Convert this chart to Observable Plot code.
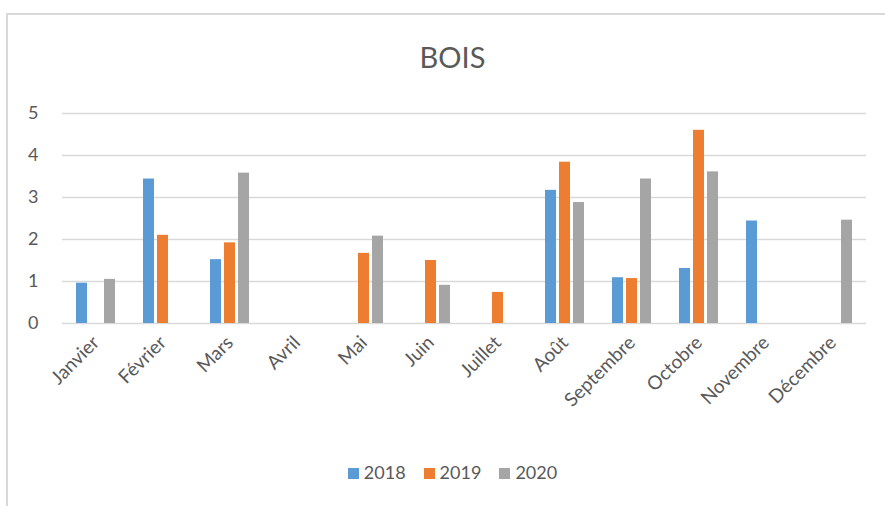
<!DOCTYPE html>
<html>
<head>
<meta charset="utf-8">
<script src="https://cdn.jsdelivr.net/npm/d3@7"></script>
<script src="https://cdn.jsdelivr.net/npm/@observablehq/plot@0.6"></script>
<style>
  html, body { margin: 0; padding: 0; background: #fff; }
  body { width: 885px; height: 506px; position: relative; overflow: hidden; font-family: Lato, "Open Sans", sans-serif; }
  #frame { position: absolute; left: 6px; top: 13px; width: 900px; height: 520px; border-left: 2px solid #d9d9d9; border-top: 2px solid #d9d9d9; }
  #title { position: absolute; left: 0; width: 905px; top: 40px; text-align: center; font-size: 29px; color: #595959; line-height: 34px; }
  #chart { position: absolute; left: 0; top: 0; }
  #legend { position: absolute; left: 0; width: 905px; top: 460px; text-align: center; font-size: 18px; color: #595959; line-height: 24px; }
  #legend span.item { display: inline-block; margin: 0 9px; }
  #legend span.sw { display: inline-block; width: 11px; height: 11px; margin-right: 5px; vertical-align: 0px; }
  .chart g[aria-label^="y-axis"] text { font-size: 18px; }
  .chart g[aria-label^="fx-axis"] text { font-size: 19px; }
</style>
</head>
<body>
<div id="frame"></div>
<div id="title">BOIS</div>
<div id="chart"></div>
<div id="legend"></div>
<script>
const months = ["Janvier", "Février", "Mars", "Avril", "Mai", "Juin", "Juillet", "Août", "Septembre", "Octobre", "Novembre", "Décembre"];
const years = ["2018", "2019", "2020"];
const v2018 = [0.96, 3.44, 1.52, 0, 0, 0, 0, 3.17, 1.09, 1.31, 2.44, 0];
const v2019 = [0, 2.10, 1.92, 0, 1.67, 1.50, 0.74, 3.84, 1.07, 4.60, 0, 0];
const v2020 = [1.05, 0, 3.58, 0, 2.08, 0.91, 0, 2.88, 3.44, 3.61, 0, 2.46];
const colors = ["#5b9bd5", "#ed7d31", "#a5a5a5"];
const yTicks = [0, 1, 2, 3, 4, 5];

const series = [v2018, v2019, v2020];
const rows = [];
years.forEach((yr, j) => {
  months.forEach((m, i) => {
    rows.push({month: m, year: yr, value: series[j][i]});
  });
});

const chart = Plot.plot({
  className: "chart",
  width: 885,
  height: 445,
  marginTop: 113,
  marginBottom: 122,
  marginLeft: 59,
  marginRight: 16,
  style: {fontFamily: "Lato, 'Open Sans', sans-serif", color: "#595959", background: "transparent"},
  fx: {domain: months, padding: 0, label: null, axis: "bottom", tickRotate: -45, tickSize: 0, tickPadding: 16},
  x: {domain: years, axis: null, paddingInner: 0.23, paddingOuter: 0.9},
  y: {domain: [0, 5], ticks: yTicks, tickFormat: "d", label: null, tickSize: 0, tickPadding: 24},
  color: {domain: years, range: colors},
  marks: [
    Plot.ruleY(yTicks, {stroke: "#d9d9d9", strokeWidth: 1.5}),
    Plot.barY(rows, {fx: "month", x: "year", y: "value", fill: "year", insetLeft: 0, insetRight: 0})
  ]
});
document.getElementById("chart").appendChild(chart);

const legend = document.getElementById("legend");
years.forEach((yr, j) => {
  const item = document.createElement("span");
  item.className = "item";
  const sw = document.createElement("span");
  sw.className = "sw";
  sw.style.background = colors[j];
  item.appendChild(sw);
  item.appendChild(document.createTextNode(yr));
  legend.appendChild(item);
});
</script>
</body>
</html>
